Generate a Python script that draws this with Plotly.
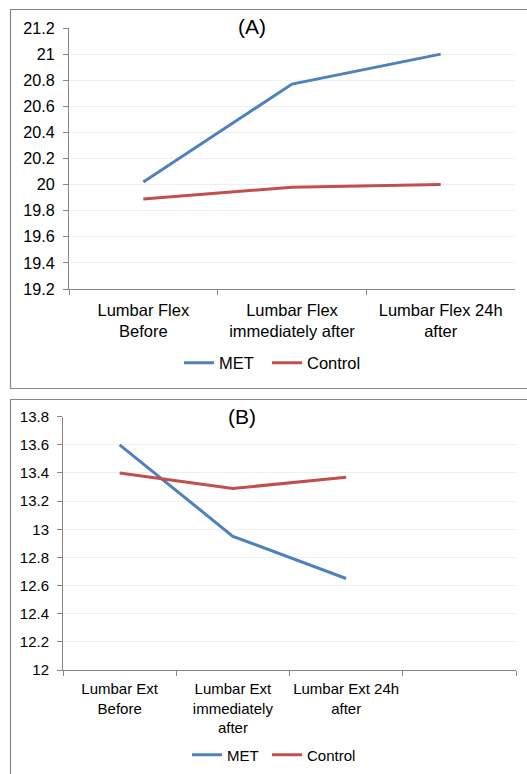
import plotly.graph_objects as go

W, H = 527, 774

# ---- data ----
cats_a = ["Lumbar Flex<br>Before", "Lumbar Flex<br>immediately after", "Lumbar Flex 24h<br>after"]
met_a = [20.02, 20.77, 21.0]
control_a = [19.89, 19.98, 20.0]
yticks_a = [19.2, 19.4, 19.6, 19.8, 20, 20.2, 20.4, 20.6, 20.8, 21, 21.2]
yticktext_a = ["19.2", "19.4", "19.6", "19.8", "20", "20.2", "20.4", "20.6", "20.8", "21", "21.2"]

cats_b = ["Lumbar Ext<br>Before", "Lumbar Ext<br>immediately<br>after", "Lumbar Ext 24h<br>after", " "]
met_b = [13.6, 12.95, 12.65]
control_b = [13.4, 13.29, 13.37]
yticks_b = [12, 12.2, 12.4, 12.6, 12.8, 13, 13.2, 13.4, 13.6, 13.8]
yticktext_b = ["12", "12.2", "12.4", "12.6", "12.8", "13", "13.2", "13.4", "13.6", "13.8"]

BLUE = "#4F81BD"
RED = "#C0504D"
AXIS = "#868686"
GRID = "#EFEFEF"
FONT = "Liberation Sans, Arial, sans-serif"


def px_x(x):
    return x / W


def px_y(y):
    return 1 - y / H


fig = go.Figure()
fig.add_trace(go.Scatter(x=cats_a[:3], y=met_a, mode="lines", name="MET",
                         line=dict(color=BLUE, width=3), xaxis="x", yaxis="y", legend="legend"))
fig.add_trace(go.Scatter(x=cats_a[:3], y=control_a, mode="lines", name="Control",
                         line=dict(color=RED, width=3), xaxis="x", yaxis="y", legend="legend2"))
fig.add_trace(go.Scatter(x=cats_b[:3], y=met_b, mode="lines", name="MET",
                         line=dict(color=BLUE, width=3), xaxis="x2", yaxis="y2", legend="legend3"))
fig.add_trace(go.Scatter(x=cats_b[:3], y=control_b, mode="lines", name="Control",
                         line=dict(color=RED, width=3), xaxis="x2", yaxis="y2", legend="legend4"))

xcommon = dict(type="category", categoryorder="array", showline=True, linecolor=AXIS, linewidth=1,
               ticks="outside", tickson="boundaries", ticklen=5, tickcolor=AXIS, tickangle=0,
               showgrid=False, zeroline=False, fixedrange=True, automargin=False)
ycommon = dict(showline=True, linecolor=AXIS, linewidth=1, ticks="outside", ticklen=5,
               tickcolor=AXIS, showgrid=True, gridcolor=GRID, gridwidth=1, zeroline=False,
               ticklabelstandoff=5, automargin=False, fixedrange=True)


def leg(xpx, ypx, size):
    return dict(orientation="h", x=px_x(xpx), xanchor="left", y=px_y(ypx), yanchor="middle",
                font=dict(size=size), bgcolor="rgba(0,0,0,0)", itemwidth=30, tracegroupgap=0)


fig.update_layout(
    width=W, height=H,
    margin=dict(l=0, r=0, t=0, b=0, autoexpand=False),
    paper_bgcolor="white", plot_bgcolor="white",
    font=dict(family=FONT, color="#000000"),
    xaxis=dict(**xcommon, domain=[px_x(69), px_x(515)], anchor="y",
               categoryarray=cats_a, range=[-0.5, 2.5], tickfont=dict(size=16.5),
               ticklabelstandoff=6),
    yaxis=dict(**ycommon, domain=[px_y(289), px_y(28)], anchor="x",
               range=[19.2, 21.2], tickvals=yticks_a, ticktext=yticktext_a, tickfont=dict(size=16.2)),
    xaxis2=dict(**xcommon, domain=[px_x(63), px_x(516)], anchor="y2",
                categoryarray=cats_b, range=[-0.5, 3.5], tickfont=dict(size=15),
                ticklabelstandoff=5),
    yaxis2=dict(**ycommon, domain=[px_y(670), px_y(416.7)], anchor="x2",
                range=[12, 13.8], tickvals=yticks_b, ticktext=yticktext_b, tickfont=dict(size=15)),
    legend=leg(179, 363, 16.5),
    legend2=leg(267, 363, 16.5),
    legend3=leg(187, 755, 15),
    legend4=leg(267, 755, 15),
    showlegend=True,
)

# panel borders
fig.add_shape(type="rect", xref="paper", yref="paper", x0=px_x(10.5), x1=1.02,
              y0=px_y(388.5), y1=px_y(9.5), line=dict(color=AXIS, width=1.2))
fig.add_shape(type="rect", xref="paper", yref="paper", x0=px_x(10.5), x1=1.02,
              y0=-0.02, y1=px_y(399.5), line=dict(color=AXIS, width=1.2))

# panel titles
fig.add_annotation(text="(A)", xref="paper", yref="paper", x=px_x(252), y=px_y(27),
                   showarrow=False, font=dict(size=21), xanchor="center", yanchor="middle")
fig.add_annotation(text="(B)", xref="paper", yref="paper", x=px_x(242), y=px_y(416),
                   showarrow=False, font=dict(size=21), xanchor="center", yanchor="middle")

fig.write_html("out.html", config={"displayModeBar": False, "staticPlot": True},
               post_script="document.body.style.margin='0';document.body.style.overflow='hidden';")
